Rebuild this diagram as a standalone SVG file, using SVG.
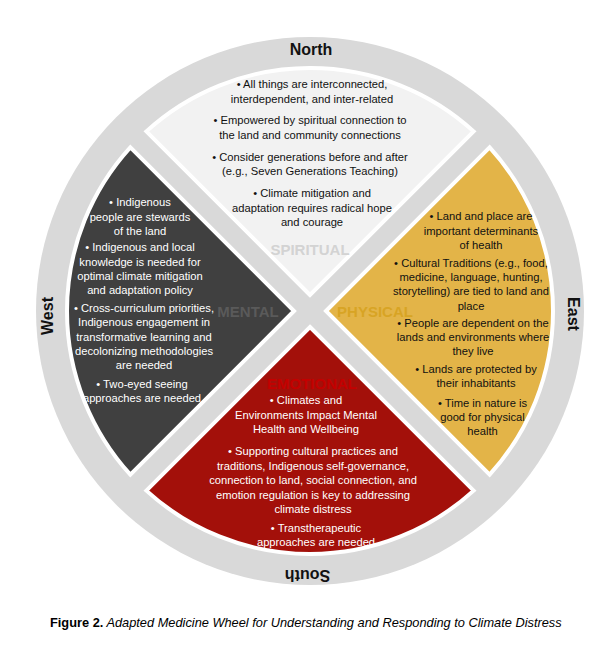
<svg xmlns="http://www.w3.org/2000/svg" width="611" height="648" viewBox="0 0 611 648">
<style>
.t{font-family:"Liberation Sans",Arial,sans-serif;font-size:11.2px;text-anchor:middle}
.w{fill:#ffffff}
.k{fill:#111111}
.lab{font-family:"Liberation Sans",Arial,sans-serif;font-size:15px;font-weight:bold;text-anchor:middle}
.dir{font-family:"Liberation Sans",Arial,sans-serif;font-size:16px;font-weight:bold;text-anchor:middle;fill:#111}
.sec{stroke:#ffffff;stroke-width:4}
.cap{font-family:"Liberation Sans",Arial,sans-serif;font-size:12.8px;fill:#000}
</style>
<rect width="611" height="648" fill="#ffffff"/>
<g id="wheel">
<circle cx="310" cy="311" r="274" fill="#d9d9d9"/>
</g>
<g id="north">
<path class="sec" fill="#f2f2f2" d="M310,295 L146.36,131.36 A243,243 0 0 1 473.64,131.36 Z"/>
<text class="dir" x="311" y="55">North</text>
<text class="t k"><tspan x="312" y="88">• All things are interconnected,</tspan><tspan x="312" y="102.5">interdependent, and inter-related</tspan></text>
<text class="t k"><tspan x="310" y="124">• Empowered by spiritual connection to</tspan><tspan x="310" y="138.5">the land and community connections</tspan></text>
<text class="t k"><tspan x="310" y="160.5">• Consider generations before and after</tspan><tspan x="310" y="175">(e.g., Seven Generations Teaching)</tspan></text>
<text class="t k"><tspan x="312" y="197">• Climate mitigation and</tspan><tspan x="312" y="211.5">adaptation requires radical hope</tspan><tspan x="312" y="226">and courage</tspan></text>
<text class="lab" x="310" y="255" fill="#d3d3d3">SPIRITUAL</text>
</g>
<g id="west">
<path class="sec" fill="#404040" d="M294,311 L130.36,474.64 A243,243 0 0 1 130.36,147.36 Z"/>
<text class="dir" transform="translate(53,316) rotate(-90)">West</text>
<text class="t w"><tspan x="140" y="206">• Indigenous</tspan><tspan x="140" y="220.5">people are stewards</tspan><tspan x="140" y="235">of the land</tspan></text>
<text class="t w"><tspan x="140" y="251">• Indigenous and local</tspan><tspan x="140" y="265.5">knowledge is needed for</tspan><tspan x="140" y="280">optimal climate mitigation</tspan><tspan x="140" y="294">and adaptation policy</tspan></text>
<text class="t w"><tspan x="144" y="311.5">• Cross-curriculum priorities,</tspan><tspan x="144" y="326">Indigenous engagement in</tspan><tspan x="144" y="340.5">transformative learning and</tspan><tspan x="144" y="355">decolonizing methodologies</tspan><tspan x="144" y="369">are needed</tspan></text>
<text class="t w"><tspan x="142" y="387.5">• Two-eyed seeing</tspan><tspan x="142" y="401.5">approaches are needed</tspan></text>
<text class="lab" x="248" y="317" fill="#5a5a5a">MENTAL</text>
</g>
<g id="east">
<path class="sec" fill="#e3b448" d="M326,311 L489.64,147.36 A243,243 0 0 1 489.64,474.64 Z"/>
<text class="dir" transform="translate(568,314) rotate(90)">East</text>
<text class="t k"><tspan x="481" y="220">• Land and place are</tspan><tspan x="481" y="234.5">important determinants</tspan><tspan x="481" y="248.5">of health</tspan></text>
<text class="t k"><tspan x="471" y="266.5">• Cultural Traditions (e.g., food,</tspan><tspan x="471" y="281">medicine, language, hunting,</tspan><tspan x="471" y="295">storytelling) are tied to land and</tspan><tspan x="471" y="309.5">place</tspan></text>
<text class="t k"><tspan x="473" y="327">• People are dependent on the</tspan><tspan x="473" y="341">lands and environments where</tspan><tspan x="473" y="355">they live</tspan></text>
<text class="t k"><tspan x="476" y="373">• Lands are protected by</tspan><tspan x="476" y="387">their inhabitants</tspan></text>
<text class="t k"><tspan x="482.5" y="406.5">• Time in nature is</tspan><tspan x="482.5" y="421">good for physical</tspan><tspan x="482.5" y="435">health</tspan></text>
<text class="lab" x="375" y="317" fill="#d8a424">PHYSICAL</text>
</g>
<g id="south">
<path class="sec" fill="#a3100a" d="M310,327 L473.64,490.64 A243,243 0 0 1 146.36,490.64 Z"/>
<text class="dir" transform="translate(307.5,570) rotate(180)">South</text>
<text class="lab" x="312" y="389" fill="#c40000">EMOTIONAL</text>
<text class="t w"><tspan x="306" y="404">• Climates and</tspan><tspan x="306" y="418.5">Environments Impact Mental</tspan><tspan x="306" y="433">Health and Wellbeing</tspan></text>
<text class="t w"><tspan x="313" y="455">• Supporting cultural practices and</tspan><tspan x="313" y="470">traditions, Indigenous self-governance,</tspan><tspan x="313" y="484">connection to land, social connection, and</tspan><tspan x="313" y="498.5">emotion regulation is key to addressing</tspan><tspan x="313" y="513">climate distress</tspan></text>
<text class="t w"><tspan x="316" y="531.5">• Transtherapeutic</tspan><tspan x="316" y="545.5">approaches are needed</tspan></text>
</g>
<g id="caption">
<text class="cap" x="50" y="627"><tspan font-weight="bold">Figure 2.</tspan><tspan font-style="italic"> Adapted Medicine Wheel for Understanding and Responding to Climate Distress</tspan></text>
</g>
<g id="connectors"></g>
</svg>
